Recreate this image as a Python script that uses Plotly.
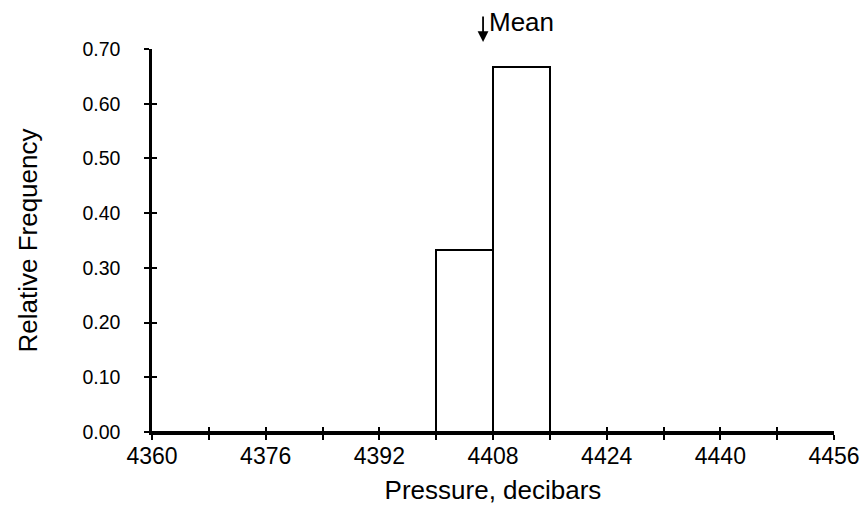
import plotly.graph_objects as go

# Data
bin_left = [4360, 4368, 4376, 4384, 4392, 4400, 4408, 4416, 4424, 4432, 4440, 4448]
rel_freq = [0, 0, 0, 0, 0, 0.333, 0.667, 0, 0, 0, 0, 0]
bin_width = 8
x_ticks = [4360, 4368, 4376, 4384, 4392, 4400, 4408, 4416, 4424, 4432, 4440, 4448, 4456]
x_tick_labels = ["4360", "", "4376", "", "4392", "", "4408", "", "4424", "", "4440", "", "4456"]
y_ticks = [0, 0.1, 0.2, 0.3, 0.4, 0.5, 0.6, 0.7]
mean_value = 4406.6

FONT = "Liberation Sans, Arial, sans-serif"

fig = go.Figure()
fig.add_trace(go.Bar(
    x=bin_left, y=rel_freq, width=bin_width, offset=0,
    marker=dict(color="white", line=dict(color="black", width=2)),
    showlegend=False, hoverinfo="skip",
))
# invisible trace for overlay axes (used for crossing tick marks)
fig.add_trace(go.Scatter(x=[x_ticks[0]], y=[0], xaxis="x2", yaxis="y2",
                         mode="markers", marker=dict(opacity=0), showlegend=False, hoverinfo="skip"))

fig.update_layout(
    width=864, height=511,
    margin=dict(l=152, r=30, t=49, b=79),
    plot_bgcolor="white", paper_bgcolor="white",
    font=dict(family=FONT, color="black"),
    bargap=0,
    xaxis=dict(
        range=[x_ticks[0], x_ticks[-1]], tickvals=x_ticks, ticktext=x_tick_labels,
        ticks="outside", ticklen=5, tickwidth=2, tickcolor="black",
        showline=True, linecolor="black", linewidth=2.5, showgrid=False, zeroline=False,
        tickfont=dict(size=23, family=FONT), ticklabelstandoff=-3, ticklabeloverflow="allow",
        automargin=False,
        title=dict(text="Pressure, decibars", font=dict(size=26, family=FONT), standoff=13),
    ),
    yaxis=dict(
        range=[0, 0.70], tickvals=y_ticks, tickformat=".2f",
        ticks="outside", ticklen=5, tickwidth=2, tickcolor="black",
        showline=True, linecolor="black", linewidth=2.5, showgrid=False, zeroline=False,
        tickfont=dict(size=19.5, family=FONT), ticklabelstandoff=20,
        automargin=False,
        title=dict(text="Relative Frequency", font=dict(size=26, family=FONT), standoff=38),
    ),
    xaxis2=dict(
        overlaying="x", matches="x", anchor="y2", side="bottom",
        range=[x_ticks[0], x_ticks[-1]], tickvals=x_ticks, showticklabels=False,
        ticks="inside", ticklen=5, tickwidth=2, tickcolor="black",
        showline=False, showgrid=False, zeroline=False, automargin=False,
    ),
    yaxis2=dict(
        overlaying="y", matches="y", anchor="x2", side="left",
        range=[0, 0.70], tickvals=y_ticks, showticklabels=False,
        ticks="inside", ticklen=5, tickwidth=2, tickcolor="black",
        showline=False, showgrid=False, zeroline=False, automargin=False,
    ),
    annotations=[
        dict(
            x=mean_value, xref="x", y=1.018, yref="paper",
            ax=0, ay=-27, axref="pixel", ayref="pixel",
            text="", showarrow=True, arrowhead=2, arrowsize=1.2, arrowwidth=1.8,
            arrowcolor="black",
        ),
        dict(
            x=mean_value, xref="x", y=1.0, yref="paper", yshift=10,
            text="Mean", showarrow=False, xanchor="left", yanchor="bottom",
            xshift=4, font=dict(size=26, family=FONT, color="black"),
        ),
    ],
)

fig.write_html("out.html", config={"displayModeBar": False},
               post_script="document.body.style.margin='0';document.body.style.padding='0';")
